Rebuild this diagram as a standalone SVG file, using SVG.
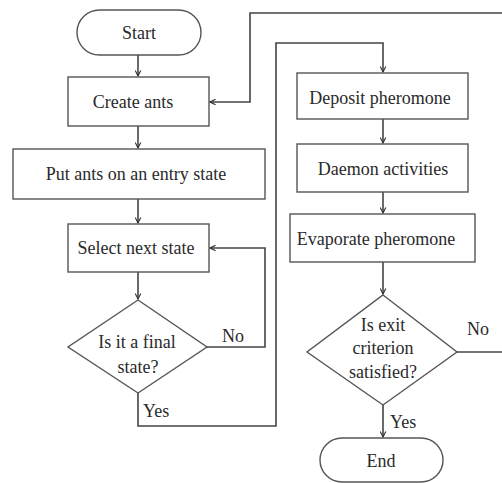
<svg xmlns="http://www.w3.org/2000/svg" width="502" height="483" viewBox="0 0 502 483">
  <style>
    .box { fill: #ffffff; stroke: #555555; stroke-width: 1.4; }
    .edge { fill: none; stroke: #444444; stroke-width: 1.6; }
    .t { font-family: "Liberation Serif", "DejaVu Serif", serif; font-size: 18px; fill: #2a2a2a; text-anchor: middle; }
    .lbl { font-family: "Liberation Serif", "DejaVu Serif", serif; font-size: 18px; fill: #2a2a2a; }
  </style>
  <defs>
    <marker id="arrow" viewBox="0 0 10 10" refX="9" refY="5" markerWidth="7" markerHeight="7" markerUnits="userSpaceOnUse" orient="auto">
      <path d="M1,1 L9,5 L1,9" fill="none" stroke="#333333" stroke-width="1.6"/>
    </marker>
  </defs>
  <rect width="502" height="483" fill="#ffffff"/>

  <g id="connectors">
    <!-- main column -->
    <path class="edge" d="M138,55 V76" marker-end="url(#arrow)"/>
    <path class="edge" d="M138,126 V148" marker-end="url(#arrow)"/>
    <path class="edge" d="M138,199 V223" marker-end="url(#arrow)"/>
    <path class="edge" d="M138,272 V299" marker-end="url(#arrow)"/>
    <!-- No: back to select next state -->
    <path class="edge" d="M207,347 H265 V248 H210" marker-end="url(#arrow)"/>
    <!-- Yes: over to pheromone update -->
    <path class="edge" d="M138,393 V426 H276 V43 H383 V72" marker-end="url(#arrow)"/>
    <!-- right column -->
    <path class="edge" d="M383,119 V143" marker-end="url(#arrow)"/>
    <path class="edge" d="M383,192 V213" marker-end="url(#arrow)"/>
    <path class="edge" d="M383,262 V294" marker-end="url(#arrow)"/>
    <path class="edge" d="M383,405 V437" marker-end="url(#arrow)"/>
    <!-- No: loop back to create ants -->
    <path class="edge" d="M457,352 H502"/>
    <path class="edge" d="M502,13 H250 V102 H210" marker-end="url(#arrow)"/>
  </g>

  <g id="start">
    <rect class="box" x="77" y="10" width="124" height="45" rx="22.5"/>
    <text class="t" x="139" y="39">Start</text>
  </g>
  <g id="create-ants">
    <rect class="box" x="68" y="77" width="141" height="49"/>
    <text class="t" x="133" y="108">Create ants</text>
  </g>
  <g id="put-ants">
    <rect class="box" x="13" y="149" width="252" height="50"/>
    <text class="t" x="136" y="180">Put ants on an entry state</text>
  </g>
  <g id="select-next">
    <rect class="box" x="68" y="224" width="141" height="48"/>
    <text class="t" x="136" y="254">Select next state</text>
  </g>
  <g id="final-state">
    <polygon class="box" points="138,300 207,347 138,393 68,347"/>
    <text class="t" x="137" y="348">Is it a final</text>
    <text class="t" x="138" y="373">state?</text>
    <text class="lbl" x="222" y="342">No</text>
    <text class="lbl" x="143" y="417">Yes</text>
  </g>
  <g id="deposit">
    <rect class="box" x="297" y="73" width="171" height="46"/>
    <text class="t" x="380" y="104">Deposit pheromone</text>
  </g>
  <g id="daemon">
    <rect class="box" x="297" y="144" width="171" height="48"/>
    <text class="t" x="383" y="175">Daemon activities</text>
  </g>
  <g id="evaporate">
    <rect class="box" x="290" y="214" width="185" height="48"/>
    <text class="t" x="376" y="245">Evaporate pheromone</text>
  </g>
  <g id="exit-criterion">
    <polygon class="box" points="383,295 457,352 383,405 307,352"/>
    <text class="t" x="383" y="331">Is exit</text>
    <text class="t" x="383" y="354">criterion</text>
    <text class="t" x="383" y="378">satisfied?</text>
    <text class="lbl" x="467" y="335">No</text>
    <text class="lbl" x="390" y="428">Yes</text>
  </g>
  <g id="end">
    <rect class="box" x="320" y="438" width="123" height="44" rx="22"/>
    <text class="t" x="381" y="467">End</text>
  </g>
</svg>
